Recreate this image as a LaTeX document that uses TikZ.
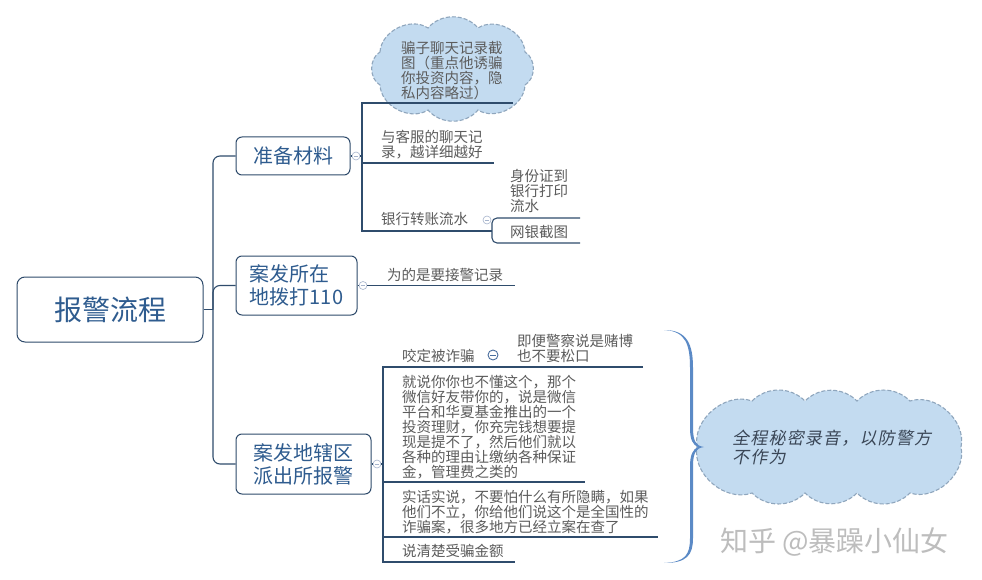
\documentclass[tikz,border=0pt]{standalone}
\usepackage{fontspec}
\setmainfont{Noto Sans CJK SC}
\newfontfamily\slantfont[FakeSlant=0.2,LetterSpace=7]{Noto Sans CJK SC}
\definecolor{boxline}{HTML}{2E4A6B}
\definecolor{connc}{HTML}{2F4C6C}
\definecolor{branchtext}{HTML}{2F5C8F}
\definecolor{childtext}{HTML}{5C5C5C}
\definecolor{cloudfill}{HTML}{C3DBF0}
\definecolor{clouddash}{HTML}{8FA6BD}
\definecolor{bracec}{HTML}{5B8AC6}
\definecolor{colc}{HTML}{A6B4CC}
\definecolor{colc2}{HTML}{4A6E9E}
\definecolor{cloudtext}{HTML}{3A4656}
\definecolor{wmc}{HTML}{BDBDBD}
\begin{document}
\begin{tikzpicture}[x=1pt,y=-1pt,
  rootbox/.style={draw=boxline,line width=1pt,rounded corners=8pt,minimum width=186pt,minimum height=65pt,text=branchtext,font=\fontsize{28}{32}\selectfont,inner sep=0pt},
  branchbox/.style={draw=boxline,line width=1pt,rounded corners=6pt,text=branchtext,font=\fontsize{20}{23}\selectfont,align=left,inner sep=0pt},
  childtxt/.style={anchor=north west,inner sep=0pt,text=childtext,font=\fontsize{14.5}{15}\selectfont,align=left},
  connline/.style={draw=connc,line width=1.1pt},
  collapsebtn/.style={circle,draw=colc,fill=white,line width=0.6pt,minimum size=8pt,inner sep=0pt,
    path picture={\draw[colc,line width=0.6pt] ([xshift=-2.2pt]path picture bounding box.center) -- ([xshift=2.2pt]path picture bounding box.center);}},
  collapsedark/.style={circle,draw=colc2,fill=white,line width=0.9pt,minimum size=10pt,inner sep=0pt,
    path picture={\draw[colc2,line width=0.9pt] ([xshift=-2.6pt]path picture bounding box.center) -- ([xshift=2.6pt]path picture bounding box.center);}},
  cloudpath/.style={draw=clouddash,dash pattern=on 4pt off 2pt,line width=1.1pt,fill=cloudfill}
]
\fill[white] (0,0) rectangle (982,580);
\useasboundingbox (0,0) rectangle (982,580);

% clouds drawn directly
\path[cloudpath] (380,52) to[bend left=60] (428,28) to[bend left=50] (478,28)
  to[bend left=60] (525,52) to[bend left=60] (525,85) to[bend left=60] (478,110)
  to[bend left=50] (428,110) to[bend left=60] (380,85) to[bend left=60] (380,52) -- cycle;
\path[cloudpath] (697,447) to[bend left=60] (752,401) to[bend left=45] (805,401)
  to[bend left=45] (857,401) to[bend left=45] (910,401) to[bend left=60] (961,447)
  to[bend left=60] (910,493) to[bend left=45] (857,493) to[bend left=45] (805,493)
  to[bend left=45] (752,493) to[bend left=60] (697,447) -- cycle;

% root and branches
\node[rootbox] (root) at (110,309.5) {报警流程};
\node[branchbox,minimum width=114pt,minimum height=38pt] (b1) at (293,156) {准备材料};
\node[branchbox,minimum width=121pt,minimum height=59pt] (b2) at (296.5,285.5) {案发所在\\地拨打110};
\node[branchbox,minimum width=135pt,minimum height=60pt] (b3) at (303.5,464) {案发地辖区\\派出所报警};

% trunk
\coordinate (trunkmid) at (213,309.5);
\draw[connline] (root.east) -- (trunkmid);
\draw[connline,rounded corners=7pt] (b1.west) -| (trunkmid) |- (b3.west);
\draw[connline,rounded corners=7pt] (b2.west) -| (trunkmid);

% children texts
\node[childtxt] (t1) at (401,41) {骗子聊天记录截\\图（重点他诱骗\\你投资内容，隐\\私内容略过）};
\node[childtxt] (t2) at (381,130) {与客服的聊天记\\录，越详细越好};
\node[childtxt] (t3) at (381,212) {银行转账流水};
\node[childtxt] (t31) at (510,169) {身份证到\\银行打印\\流水};
\node[childtxt] (t32) at (510,225) {网银截图};
\node[childtxt] (t4) at (387,268) {为的是要接警记录};
\node[childtxt] (t5) at (402,349) {咬定被诈骗};
\node[childtxt] (t51) at (517,334) {即便警察说是赌博\\也不要松口};
\node[childtxt] (t6) at (402,375) {就说你你也不懂这个，那个\\微信好友带你的，说是微信\\平台和华夏基金推出的一个\\投资理财，你充完钱想要提\\现是提不了，然后他们就以\\各种的理由让缴纳各种保证\\金，管理费之类的};
\node[childtxt] (t7) at (402,490) {实话实说，不要怕什么有所隐瞒，如果\\他们不立，你给他们说这个是全国性的\\诈骗案，很多地方已经立案在查了};
\node[childtxt] (t8) at (402,544) {说清楚受骗金额};

% branch 1 connectors
\node[collapsebtn] (k1) at (356,156) {};
\coordinate (v1) at (362,156);
\coordinate (v1top) at (362,103);
\coordinate (v1bot) at (362,231);
\coordinate (e1) at (513,103);
\coordinate (e2) at (494,163);
\coordinate (j3) at (492,231);
\coordinate (e31) at (580,218);
\coordinate (e32) at (580,243);
\draw[connline] (b1.east) -- (k1);
\draw[connline] (k1) -- (v1);
\draw[connline] (e1) -- (v1top) -- (v1bot) -- (j3);
\draw[connline] (v1 |- e2) -- (e2);
\draw[connline,rounded corners=5pt] (e31) -- (j3 |- e31) -- (j3 |- e32) -- (e32);
\node[collapsebtn] (k3) at (487,220) {};

% branch 2 connectors
\node[collapsebtn] (k2) at (363,285.5) {};
\coordinate (e4) at (515,285.5);
\draw[connline] (b2.east) -- (k2);
\draw[connline] (k2) -- (e4);

% branch 3 connectors
\node[collapsebtn] (k5) at (377,464) {};
\coordinate (v5) at (383,464);
\coordinate (v5top) at (383,367);
\coordinate (v5bot) at (383,562);
\coordinate (e5) at (643,367);
\coordinate (e6) at (585,482);
\coordinate (e7) at (658,537);
\coordinate (e8) at (515,562);
\draw[connline] (b3.east) -- (k5);
\draw[connline] (k5) -- (v5);
\draw[connline] (e5) -- (v5top) -- (v5bot) -- (e8);
\draw[connline] (v5 |- e6) -- (e6);
\draw[connline] (v5 |- e7) -- (e7);
\node[collapsedark] (k6) at (493,355) {};

% brace
\fill[bracec] (664,330) .. controls (687,330) and (693,344) .. (693,368) -- (693,428)
  .. controls (693,441) and (696,446) .. (704,447)
  .. controls (696,448) and (693,453) .. (693,466) -- (693,538)
  .. controls (693,555) and (687,563) .. (664,563)
  .. controls (686,562) and (690,554) .. (690,538) -- (690,466)
  .. controls (690,455) and (693,449) .. (698,447)
  .. controls (693,445) and (690,440) .. (690,428) -- (690,368)
  .. controls (690,345) and (686,331) .. (664,330) -- cycle;

% right cloud text
\node[anchor=north west,inner sep=0pt,text=cloudtext,font=\slantfont\fontsize{17}{19}\selectfont,align=left] (t9) at (732,429.5) {全程秘密录音，以防警方\\不作为};

% watermark
\node[anchor=west,inner sep=0pt,text=wmc,font=\fontsize{28}{30}\selectfont] (wm) at (720,542) {知乎 @暴躁小仙女};
\end{tikzpicture}
\end{document}
